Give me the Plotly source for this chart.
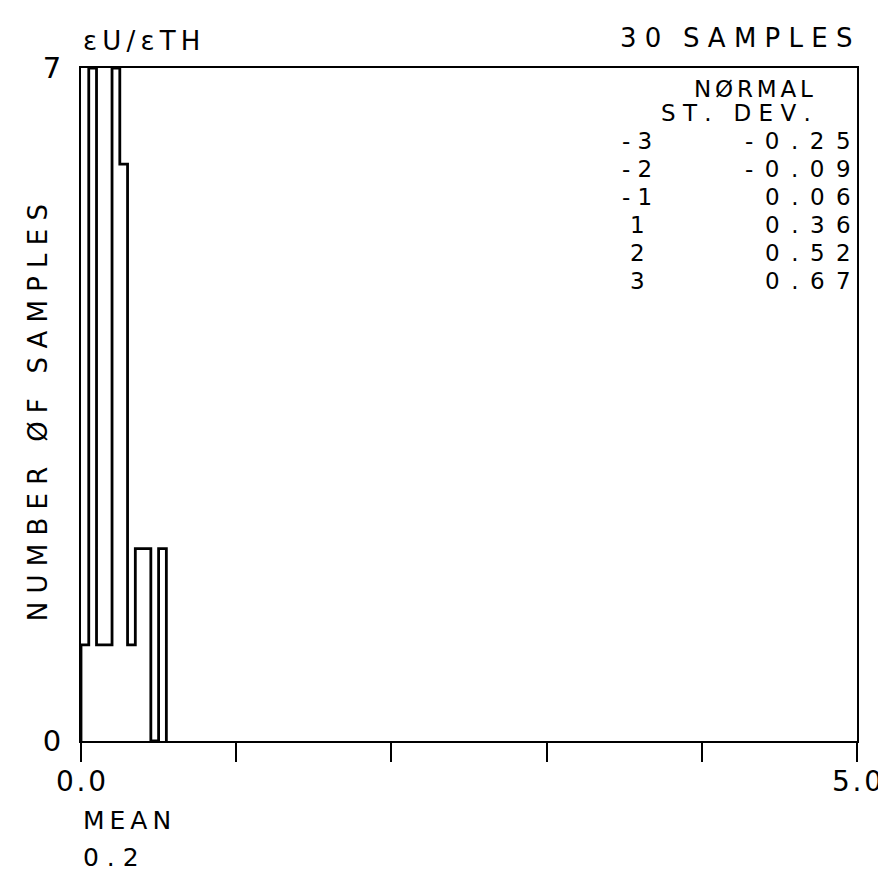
import plotly.graph_objects as go

# ---- data ----
bin_left = [0.00, 0.05, 0.10, 0.15, 0.20, 0.25, 0.30, 0.35, 0.40, 0.45, 0.50]
bin_width = 0.05
counts = [1, 7, 1, 1, 7, 6, 1, 2, 2, 0, 2]

x_ticks = [0, 1, 2, 3, 4, 5]
x_ticktext = ["0.0", "", "", "", "", "5.0"]
y_ticks = [0, 7]
y_ticktext = ["0", "7"]

sd_levels = ["-3", "-2", "-1", "1", "2", "3"]
sd_values = ["-0.25", "-0.09", "0.06", "0.36", "0.52", "0.67"]

title_left = "εU/εTH"
title_right = "30 SAMPLES"
y_title = "NUMBER ØF SAMPLES"
table_head1 = "NØRMAL"
table_head2 = "ST. DEV."
mean_label = "MEAN"
mean_value = "0.2"

# ---- geometry ----
W, H = 886, 875
X0, X1, YT, YB = 73, 853, 60, 733
FONT = "DejaVu Sans"
NB = "\u00a0"
THIN = "\u2009"
EN = "\u2002"
SIX = "\u2006"
HAIR = "\u200a"


def sp(s, gap=NB, word=NB):
    return gap.join(ch if ch != " " else word for ch in s)


def fx(px):
    return (px - X0) / (X1 - X0)


def fy(py):
    return (YB - py) / (YB - YT)


xs = [bin_left[0]] + bin_left + [bin_left[-1] + bin_width]
ys = [0] + counts + [0]

fig = go.Figure()
fig.add_trace(go.Scatter(
    x=xs, y=ys, mode="lines", line=dict(color="black", width=2.8, shape="hv"),
    hoverinfo="skip", showlegend=False,
))

fig.update_xaxes(
    range=[0, 5], tickvals=x_ticks, ticktext=[sp(t, HAIR) for t in x_ticktext],
    ticks="outside", ticklen=19, tickwidth=2, tickcolor="black",
    showline=True, linecolor="black", linewidth=2, mirror=True,
    showgrid=False, zeroline=False,
    tickfont=dict(family=FONT, size=28, color="black"), ticklabelstandoff=-5,
)
fig.update_yaxes(
    range=[0, 7], tickvals=y_ticks, ticktext=y_ticktext, ticks="",
    showline=True, linecolor="black", linewidth=2, mirror=True,
    showgrid=False, zeroline=False,
    tickfont=dict(family=FONT, size=29, color="black"), ticklabelstandoff=12,
)

ann = []
ann.append(dict(text=sp(title_left, THIN), x=fx(73), y=fy(33), xanchor="left", yanchor="middle",
                font=dict(family=FONT, size=26, color="black")))
ann.append(dict(text=sp(title_right, NB, THIN), x=fx(850), y=fy(30), xanchor="right", yanchor="middle",
                font=dict(family=FONT, size=26, color="black")))
ann.append(dict(text=sp(y_title), x=fx(30), y=fy(405), xanchor="center", yanchor="middle",
                textangle=-90, font=dict(family=FONT, size=26, color="black")))
ann.append(dict(text=sp(table_head1, SIX), x=fx(811), y=fy(81), xanchor="right", yanchor="middle",
                font=dict(family=FONT, size=23, color="black")))
ann.append(dict(text=sp(table_head2), x=fx(809), y=fy(105), xanchor="right", yanchor="middle",
                font=dict(family=FONT, size=23, color="black")))
for i, (lv, val) in enumerate(zip(sd_levels, sd_values)):
    yy = 133 + 28 * i
    ann.append(dict(text=sp(lv), x=fx(632), y=fy(yy), xanchor="center", yanchor="middle",
                    font=dict(family=FONT, size=23, color="black")))
    ann.append(dict(text=sp(val, EN), x=fx(849), y=fy(yy), xanchor="right", yanchor="middle",
                    font=dict(family=FONT, size=23, color="black")))
ann.append(dict(text=sp(mean_label, THIN), x=fx(73), y=fy(812), xanchor="left", yanchor="middle",
                font=dict(family=FONT, size=25, color="black")))
ann.append(dict(text=sp(mean_value), x=fx(73), y=fy(849), xanchor="left", yanchor="middle",
                font=dict(family=FONT, size=25, color="black")))
for a in ann:
    a.update(xref="paper", yref="paper", showarrow=False)

fig.update_layout(
    width=W, height=H, autosize=False,
    margin=dict(l=X0, r=W - X1, t=YT, b=H - YB, pad=0),
    paper_bgcolor="white", plot_bgcolor="white",
    annotations=ann, showlegend=False,
)

fig.write_html("out.html")
